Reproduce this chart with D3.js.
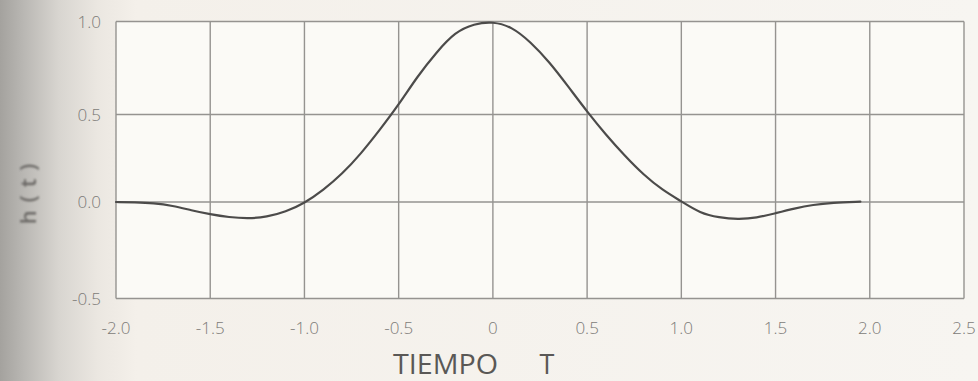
<!DOCTYPE html>
<html>
<head>
<meta charset="utf-8">
<script src="https://cdn.jsdelivr.net/npm/d3@7"></script>
<style>
  html, body { margin: 0; padding: 0; background: #f6f3ee; }
  svg { display: block; }
</style>
</head>
<body>
<svg id="chart" width="978" height="381"></svg>
<script>
// Impulse response h(t) sampled along time T
const timeT = [-2.0, -1.9, -1.8, -1.7, -1.6, -1.5, -1.4, -1.3, -1.2, -1.1,
               -1.0, -0.9, -0.8, -0.7, -0.6, -0.5, -0.4, -0.3, -0.2, -0.1,
                0.0,  0.1,  0.2,  0.3,  0.4,  0.5,  0.6,  0.7,  0.8,  0.9,
                1.0,  1.1,  1.2,  1.3,  1.4,  1.5,  1.6,  1.7,  1.8,  1.95];
const hValues = [0.0, -0.002, -0.006, -0.019, -0.043, -0.064, -0.079, -0.086, -0.078, -0.051,
                 -0.006, 0.068, 0.16, 0.276, 0.412, 0.552, 0.706, 0.834, 0.944, 0.988,
                 1.0, 0.972, 0.89, 0.782, 0.65, 0.515, 0.384, 0.264, 0.155, 0.068,
                 0.004, -0.058, -0.081, -0.09, -0.083, -0.058, -0.033, -0.014, -0.004, 0.002];

const xTicks = [-2.0, -1.5, -1.0, -0.5, 0, 0.5, 1.0, 1.5, 2.0, 2.5];
const xTickLabels = ["-2.0", "-1.5", "-1.0", "-0.5", "0", "0.5", "1.0", "1.5", "2.0", "2.5"];
const yTicks = [-0.5, 0.0, 0.5, 1.0];
const yTickLabels = ["-0.5", "0.0", "0.5", "1.0"];
const xTitleWord = "TIEMPO";
const xTitleSymbol = "T";
const yTitle = "h(t)";

const svg = d3.select("#chart");
const W = 978, H = 381;

// paper background with shaded left margin
const defs = svg.append("defs");
const grad = defs.append("linearGradient").attr("id", "paper")
  .attr("x1", 0).attr("x2", 1).attr("y1", 0).attr("y2", 0);
[["0%", "#a4a29e"], ["2.5%", "#bab8b4"], ["6%", "#d8d5d0"], ["10%", "#ebe7e1"],
 ["14%", "#f4f0ea"], ["100%", "#f7f5f1"]].forEach(([o, c]) =>
  grad.append("stop").attr("offset", o).attr("stop-color", c));
const blur = defs.append("filter").attr("id", "soft")
  .attr("x", "-50%").attr("y", "-50%").attr("width", "200%").attr("height", "200%");
blur.append("feGaussianBlur").attr("stdDeviation", 1.1);

svg.append("rect").attr("width", W).attr("height", H).attr("fill", "url(#paper)");

const x = d3.scaleLinear().domain([-2.0, 2.5]).range([116, 964]);
const y = d3.scaleLinear().domain([-0.5, 0.0, 0.5, 1.0]).range([298.5, 202, 114.5, 21.5]);

const plot = svg.append("g");
plot.append("rect")
  .attr("x", x(-2.0)).attr("y", y(1.0))
  .attr("width", x(2.5) - x(-2.0)).attr("height", y(-0.5) - y(1.0))
  .attr("fill", "#fbfaf6");

const gridColor = "#959390";

// vertical grid lines
plot.selectAll("line.vx").data(xTicks).join("line")
  .attr("class", "vx")
  .attr("x1", d => x(d)).attr("x2", d => x(d))
  .attr("y1", y(1.0)).attr("y2", y(-0.5))
  .attr("stroke", gridColor).attr("stroke-width", 1.4);

// horizontal grid lines
plot.selectAll("line.hy").data(yTicks).join("line")
  .attr("class", "hy")
  .attr("x1", x(-2.0)).attr("x2", x(2.5))
  .attr("y1", d => y(d)).attr("y2", d => y(d))
  .attr("stroke", gridColor).attr("stroke-width", 1.4);

// response curve
const pts = timeT.map((t, i) => [t, hValues[i]]);
plot.append("path")
  .datum(pts)
  .attr("fill", "none")
  .attr("stroke", "#4c4b4a")
  .attr("stroke-width", 2.2)
  .attr("stroke-linecap", "round")
  .attr("stroke-linejoin", "round")
  .attr("d", d3.line().x(d => x(d[0])).y(d => y(d[1])).curve(d3.curveBasis));

const labelFont = "'Open Sans', 'DejaVu Sans', sans-serif";

// x tick labels
svg.selectAll("text.xt").data(xTicks).join("text")
  .attr("class", "xt")
  .attr("x", d => x(d)).attr("y", 334)
  .attr("text-anchor", "middle")
  .attr("font-family", labelFont).attr("font-weight", 300)
  .attr("font-size", 17).attr("fill", "#7d7b78")
  .text((d, i) => xTickLabels[i]);

// y tick labels
svg.selectAll("text.yt").data(yTicks).join("text")
  .attr("class", "yt")
  .attr("x", 101).attr("y", d => y(d) + 6)
  .attr("text-anchor", "end")
  .attr("font-family", labelFont).attr("font-weight", 300)
  .attr("font-size", 17).attr("fill", "#7d7b78")
  .text((d, i) => yTickLabels[i]);

// axis titles
svg.append("text")
  .attr("x", 393).attr("y", 374)
  .attr("font-family", labelFont).attr("font-weight", 400)
  .attr("font-size", 27).attr("fill", "#5a5856")
  .attr("textLength", 105).attr("lengthAdjust", "spacingAndGlyphs")
  .text(xTitleWord);
svg.append("text")
  .attr("x", 547).attr("y", 374)
  .attr("text-anchor", "middle")
  .attr("font-family", labelFont).attr("font-weight", 400)
  .attr("font-size", 27).attr("fill", "#5a5856")
  .text(xTitleSymbol);

svg.append("text")
  .attr("transform", "translate(36,190) rotate(-90)")
  .attr("text-anchor", "middle")
  .attr("font-family", labelFont).attr("font-weight", 600)
  .attr("font-size", 22).attr("letter-spacing", 8)
  .attr("fill", "#6a6865")
  .attr("filter", "url(#soft)")
  .text(yTitle);
</script>
</body>
</html>
